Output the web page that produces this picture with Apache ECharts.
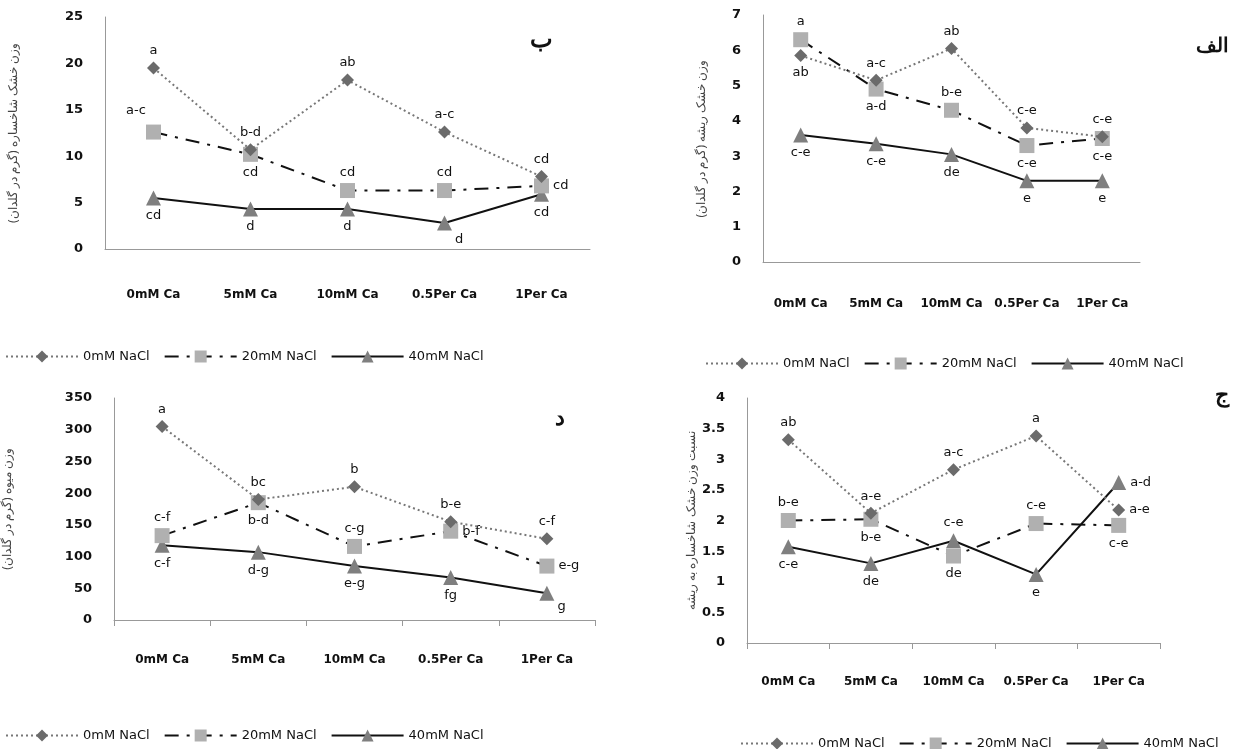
<!DOCTYPE html>
<html>
<head>
<meta charset="utf-8">
<script src="https://cdn.jsdelivr.net/npm/echarts@6/dist/echarts.min.js"></script>
<style>html,body{margin:0;padding:0;background:#fff}#main{width:1239px;height:749px}</style>
</head>
<body>
<div id="main"></div>
<script>
var categories = ['0mM Ca', '5mM Ca', '10mM Ca', '0.5Per Ca', '1Per Ca'];
var seriesNames = ['0mM NaCl', '20mM NaCl', '40mM NaCl'];

// ب : shoot dry weight
var shoot0 = [19.5, 10.7, 18.2, 12.6, 7.8];
var shoot20 = [12.6, 10.2, 6.3, 6.3, 6.8];
var shoot40 = [5.5, 4.3, 4.3, 2.8, 5.9];
var shootLetters0 = ['a', 'b-d', 'ab', 'a-c', 'cd'];
var shootLetters20 = ['a-c', 'cd', 'cd', 'cd', 'cd'];
var shootLetters40 = ['cd', 'd', 'd', 'd', 'cd'];

// الف : root dry weight
var root0 = [5.85, 5.15, 6.05, 3.8, 3.55];
var root20 = [6.3, 4.9, 4.3, 3.3, 3.5];
var root40 = [3.6, 3.35, 3.05, 2.3, 2.3];
var rootLetters0 = ['ab', 'a-c', 'ab', 'c-e', 'c-e'];
var rootLetters20 = ['a', 'a-d', 'b-e', 'c-e', 'c-e'];
var rootLetters40 = ['c-e', 'c-e', 'de', 'e', 'e'];

// د : fruit weight
var fruit0 = [305, 190, 210, 155, 128];
var fruit20 = [133, 185, 116, 140, 85];
var fruit40 = [118, 107, 85, 67, 42];
var fruitLetters0 = ['a', 'bc', 'b', 'b-e', 'c-f'];
var fruitLetters20 = ['c-f', 'b-d', 'c-g', 'b-f', 'e-g'];
var fruitLetters40 = ['c-f', 'd-g', 'e-g', 'fg', 'g'];

// ج : shoot/root ratio
var ratio0 = [3.32, 2.12, 2.83, 3.38, 2.17];
var ratio20 = [2.0, 2.02, 1.42, 1.95, 1.92];
var ratio40 = [1.57, 1.3, 1.67, 1.12, 2.62];
var ratioLetters0 = ['ab', 'a-e', 'a-c', 'a', 'a-e'];
var ratioLetters20 = ['b-e', 'b-e', 'de', 'c-e', 'c-e'];
var ratioLetters40 = ['c-e', 'de', 'c-e', 'e', 'a-d'];

var font = 'DejaVu Sans';
var myChart = echarts.init(document.getElementById('main'));

var styles = [
    {symbol: 'diamond', size: 13, color: '#6b6b6b', line: {color: '#777', width: 2, type: [2, 3]}},
    {symbol: 'rect', size: 15, color: '#b0b0b0', line: {color: '#111', width: 2, type: [14, 8, 3, 8]}},
    {symbol: 'triangle', size: 15, color: '#7f7f7f', line: {color: '#111', width: 2, type: 'solid'}}
];

function makeSeries(idx, s, values, letters, positions) {
    var st = styles[s];
    return {
        name: seriesNames[s],
        type: 'line',
        xAxisIndex: idx,
        yAxisIndex: idx,
        symbol: st.symbol,
        symbolSize: st.size,
        itemStyle: {color: st.color},
        lineStyle: st.line,
        z: 3 - s,
        data: values.map(function (v, i) {
            return {value: v, label: {show: true, formatter: letters[i], position: positions[i],
                distance: 4, color: '#111', fontFamily: font, fontSize: 13}};
        })
    };
}

var T = 'top', B = 'bottom', R = 'right', L = 'left';

var grids = [
    {left: 105, top: 17, width: 485, height: 232},
    {left: 763, top: 15, width: 377, height: 247},
    {left: 114, top: 398, width: 481, height: 222},
    {left: 747, top: 398, width: 413, height: 245}
];
var yRanges = [[0, 25, 5], [0, 7, 1], [0, 350, 50], [0, 4, 0.5]];
var yNames = ['وزن خشک شاخساره (گرم در گلدان)', 'وزن خشک ریشه (گرم در گلدان)',
    'وزن میوه (گرم در گلدان)', 'نسبت وزن خشک شاخساره به ریشه'];
var nameGaps = [85, 55, 100, 48];
var xMargins = [40, 36, 34, 33];
var ticks = [false, false, true, true];

option = {
    animation: false,
    grid: grids,
    xAxis: grids.map(function (g, i) {
        return {type: 'category', gridIndex: i, data: categories,
            axisLine: {lineStyle: {color: '#999'}},
            axisTick: {show: ticks[i], length: 6, lineStyle: {color: '#999'}},
            axisLabel: {interval: 0, margin: xMargins[i], color: '#111', fontFamily: font, fontSize: 12, fontWeight: 'bold'}};
    }),
    yAxis: grids.map(function (g, i) {
        return {type: 'value', gridIndex: i, min: yRanges[i][0], max: yRanges[i][1], interval: yRanges[i][2],
            name: yNames[i], nameLocation: 'middle', nameGap: nameGaps[i], nameRotate: 90,
            nameTextStyle: {color: '#444', fontFamily: 'Noto Sans', fontSize: 12},
            axisLine: {show: true, lineStyle: {color: '#999'}},
            axisTick: {show: false},
            splitLine: {show: false},
            axisLabel: {margin: 22, color: '#111', fontFamily: font, fontSize: 13, fontWeight: 'bold'}};
    }),
    legend: [[0, 345], [700, 352], [0, 724], [735, 732]].map(function (p) {
        return {left: p[0], top: p[1], data: seriesNames, itemWidth: 72, itemHeight: 15, itemGap: 14,
            textStyle: {color: '#111', fontFamily: font, fontSize: 13}};
    }),
    graphic: [
        {type: 'text', left: 530, top: 28, style: {text: 'ب', font: 'bold 24px "Noto Sans"', fill: '#111'}},
        {type: 'text', left: 1196, top: 36, style: {text: 'الف', font: 'bold 20px "Noto Sans"', fill: '#111'}},
        {type: 'text', left: 555, top: 408, style: {text: 'د', font: 'bold 22px "Noto Sans"', fill: '#111'}},
        {type: 'text', left: 1215, top: 385, style: {text: 'ج', font: 'bold 22px "Noto Sans"', fill: '#111'}}
    ],
    series: [
        makeSeries(0, 0, shoot0, shootLetters0, [T, T, T, T, T]),
        makeSeries(0, 1, shoot20, shootLetters20, [[-20, -20], B, T, T, R]),
        makeSeries(0, 2, shoot40, shootLetters40, [B, B, B, [18, 18], B]),
        makeSeries(1, 0, root0, rootLetters0, [B, T, T, T, T]),
        makeSeries(1, 1, root20, rootLetters20, [T, B, T, B, B]),
        makeSeries(1, 2, root40, rootLetters40, [B, B, B, B, B]),
        makeSeries(2, 0, fruit0, fruitLetters0, [T, T, T, T, T]),
        makeSeries(2, 1, fruit20, fruitLetters20, [T, B, T, R, R]),
        makeSeries(2, 2, fruit40, fruitLetters40, [B, B, B, B, [18, 14]]),
        makeSeries(3, 0, ratio0, ratioLetters0, [T, T, T, T, R]),
        makeSeries(3, 1, ratio20, ratioLetters20, [T, B, B, T, B]),
        makeSeries(3, 2, ratio40, ratioLetters40, [B, B, T, B, R])
    ]
};

myChart.setOption(option);
</script>
</body>
</html>
